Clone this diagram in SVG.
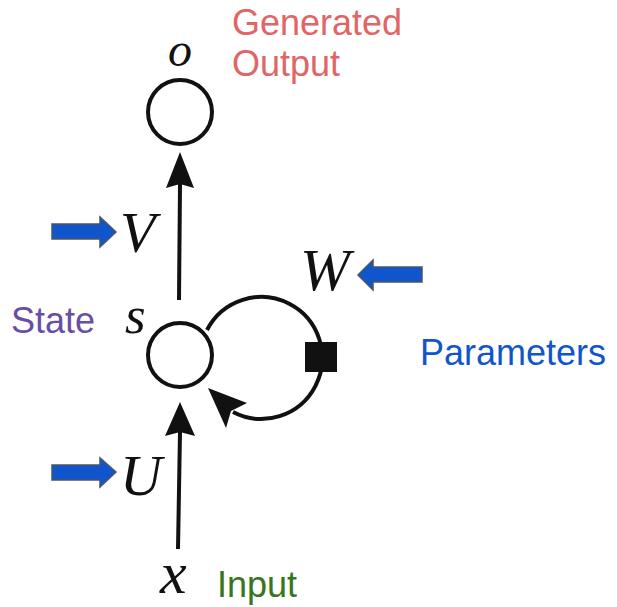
<svg xmlns="http://www.w3.org/2000/svg" width="617" height="607" viewBox="0 0 617 607">
  <style>
    .node { fill: none; stroke: #111; stroke-width: 4; }
    .edge { fill: none; stroke: #111; stroke-width: 4; }
    .head { fill: #111; stroke: none; }
    .blue { fill: #1155cc; stroke: #4a5568; stroke-width: 1.5; }
    .sym { font-family: "Liberation Serif", "DejaVu Serif", serif; font-style: italic; fill: #111; }
    .lbl { font-family: "Liberation Sans", Arial, sans-serif; font-size: 36px; }
  </style>
  <rect width="617" height="607" fill="#ffffff"/>

  <g id="connectors">
    <path class="edge" d="M179,300 L180,184"/>
    <polygon class="head" points="180,152 166,188 180,184 194,188"/>
    <path class="edge" d="M178,549 L180,432"/>
    <polygon class="head" points="180,402 165,436 180,432 195,436"/>
    <path class="edge" d="M207,330 A61,61 0 1 1 233,412"/>
    <polygon class="head" points="208,388 247,403 231,411 226,428"/>
  </g>

  <g id="node-o">
    <circle class="node" cx="180" cy="112" r="32"/>
    <text class="sym" x="168" y="66" font-size="48">o</text>
  </g>
  <g id="node-s">
    <circle class="node" cx="180" cy="355" r="32"/>
    <text class="sym" x="125" y="333" font-size="53">s</text>
  </g>
  <g id="node-w">
    <rect x="305" y="342" width="32" height="30" fill="#111"/>
  </g>
  <g id="node-x">
    <text class="sym" x="160" y="593" font-size="60">x</text>
  </g>

  <g id="param-V">
    <polygon class="blue" points="52,224 100,224 100,217 116,232 100,247 100,239 52,239"/>
    <text class="sym" x="120" y="252" font-size="58">V</text>
  </g>
  <g id="param-W">
    <polygon class="blue" points="422,267 373,267 373,260 358,275 373,290 373,282 422,282"/>
    <text class="sym" x="300" y="290" font-size="60">W</text>
  </g>
  <g id="param-U">
    <polygon class="blue" points="52,465 100,465 100,458 116,472 100,487 100,480 52,480"/>
    <text class="sym" x="120" y="495" font-size="58">U</text>
  </g>

  <g id="labels">
    <text class="lbl" x="232" y="35" fill="#e06666" font-size="36.8">Generated</text>
    <text class="lbl" x="232" y="76" fill="#e06666" font-size="36.8">Output</text>
    <text class="lbl" x="11" y="333" fill="#674ea7" font-size="37">State</text>
    <text class="lbl" x="420" y="365" fill="#1155cc" font-size="37.4">Parameters</text>
    <text class="lbl" x="217" y="597" fill="#38761d">Input</text>
  </g>
</svg>
